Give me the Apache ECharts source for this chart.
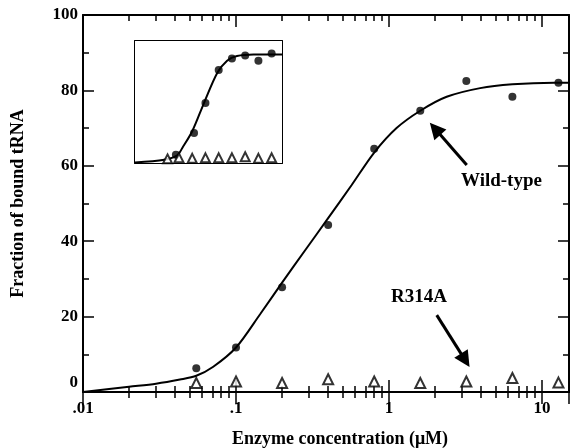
<!DOCTYPE html>
<html>
<head>
<meta charset="utf-8">
<script src="https://cdn.jsdelivr.net/npm/echarts@6/dist/echarts.min.js"></script>
<style>
  html, body { margin: 0; padding: 0; background: #fff; }
  #chart { width: 570px; height: 448px; }
</style>
</head>
<body>
<div id="chart"></div>
<script>
  // concentrations (uM) of the measured points
  var conc = [0.055, 0.1, 0.2, 0.4, 0.8, 1.6, 3.2, 6.4, 12.8]
  var wildType = [6.3, 11.8, 27.8, 44.3, 64.5, 74.6, 82.5, 78.3, 82]
  var r314a = [2.4, 2.8, 2.4, 3.4, 2.8, 2.4, 2.8, 3.7, 2.5]
  // fitted curve
  var fitX = [0.01, 0.02, 0.03, 0.043, 0.055, 0.071, 0.1, 0.144, 0.2, 0.283, 0.4, 0.57, 0.8, 1.12, 1.6, 2.38, 3.94, 6.4, 12, 15]
  var fitY = [0, 1.4, 2.2, 3.3, 4.3, 6.7, 11.8, 20.7, 29.0, 37.6, 46.1, 54.9, 63.5, 70.0, 74.6, 78.3, 80.6, 81.6, 82, 82]

  // inset
  var insetWildX = [0.085, 0.22, 0.4, 0.8, 1.6, 3.2, 6.4, 12.8]
  var insetWildY = [0.8, 2.9, 5.8, 9.0, 10.1, 10.4, 9.9, 10.6]
  var insetMutY = [0.4, 0.5, 0.45, 0.5, 0.5, 0.5, 0.6, 0.45, 0.5]
  var insetFitX = [0.01, 0.046, 0.092, 0.119, 0.2, 0.37, 0.74, 1.24, 2.08, 4.95, 22]
  var insetFitY = [0.06, 0.32, 0.74, 1.46, 3.07, 5.8, 8.7, 9.9, 10.35, 10.5, 10.5]

  // axis ticks / labels
  var xMajor = [0.01, 0.1, 1, 10]
  var xMajorLabels = ['.01', '.1', '1', '10']
  var xMinor = [0.02, 0.03, 0.04, 0.05, 0.06, 0.07, 0.08, 0.09,
    0.2, 0.3, 0.4, 0.5, 0.6, 0.7, 0.8, 0.9,
    2, 3, 4, 5, 6, 7, 8, 9, 20]

  var FONT = 'Liberation Serif'
  var chart = echarts.init(document.getElementById('chart'))

  function zip (xs, ys) {
    var out = []
    for (var i = 0; i < xs.length; i++) out.push([xs[i], ys[i]])
    return out
  }

  function logAxis (grid, pos, max, len, minorLen, withLabel) {
    var ax = {
      type: 'log',
      logBase: 10,
      gridIndex: grid,
      position: pos,
      min: 0.01,
      max: max,
      axisLine: { show: true, lineStyle: { color: '#000', width: 2 } },
      axisTick: { show: len > 0, inside: true, length: len, lineStyle: { color: '#000', width: 1.5 } },
      minorTick: { show: minorLen > 0, splitNumber: 9, length: minorLen, lineStyle: { color: '#000', width: 1.5 } },
      axisLabel: { show: false },
      splitLine: { show: false },
      minorSplitLine: { show: false }
    }
    if (withLabel) {
      ax.axisLabel = {
        show: true,
        margin: 8,
        color: '#000',
        fontFamily: FONT,
        fontWeight: 'bold',
        fontSize: 17,
        formatter: function (v) {
          var i = xMajor.indexOf(v)
          return i >= 0 ? xMajorLabels[i] : ''
        }
      }
      ax.name = 'Enzyme concentration (\u03bcM)'
      ax.nameLocation = 'middle'
      ax.nameGap = 38
      ax.nameTextStyle = { color: '#000', fontFamily: FONT, fontWeight: 'bold', fontSize: 18, padding: [0, 0, 0, 28] }
    }
    return ax
  }

  // mirrored top frame: ticks only, laid out in decades
  function topTicks (grid, max, ticks, len, withLine) {
    return {
      type: 'value',
      gridIndex: grid,
      position: 'top',
      min: -2,
      max: Math.log10(max),
      axisLine: { show: withLine, onZero: false, lineStyle: { color: '#000', width: 2 } },
      axisTick: { show: true, inside: true, length: len, customValues: ticks.map(Math.log10), lineStyle: { color: '#000', width: 1.5 } },
      axisLabel: { show: false },
      splitLine: { show: false }
    }
  }

  function yAxisDef (grid, pos, max, interval, len, minorLen, withLabel) {
    var ax = {
      type: 'value',
      gridIndex: grid,
      position: pos,
      min: 0,
      max: max,
      interval: interval,
      axisLine: { show: true, onZero: false, lineStyle: { color: '#000', width: 2 } },
      axisTick: { show: true, inside: true, length: len, lineStyle: { color: '#000', width: 1.5 } },
      minorTick: { show: true, splitNumber: 2, length: minorLen, lineStyle: { color: '#000', width: 1.5 } },
      axisLabel: { show: false },
      splitLine: { show: false },
      minorSplitLine: { show: false }
    }
    if (withLabel) {
      ax.axisLabel = {
        show: true,
        margin: 5,
        color: '#000',
        fontFamily: FONT,
        fontWeight: 'bold',
        fontSize: 17,
        formatter: function (v) { return v === 0 ? '{lo|0}' : String(v) },
        rich: { lo: { fontFamily: FONT, fontWeight: 'bold', fontSize: 17, color: '#000', padding: [0, 0, 18, 0] } }
      }
      ax.name = 'Fraction of bound tRNA'
      ax.nameLocation = 'middle'
      ax.nameGap = 56
      ax.nameTextStyle = { color: '#000', fontFamily: FONT, fontWeight: 'bold', fontSize: 18 }
    }
    return ax
  }

  var option = {
    animation: false,
    backgroundColor: '#fff',
    grid: [
      { left: 83, top: 15, width: 486, height: 377, outerBoundsMode: 'none', containLabel: false },
      { left: 135, top: 41, width: 147, height: 122, outerBoundsMode: 'none', show: true, backgroundColor: '#fff', borderWidth: 0, z: 5 }
    ],
    xAxis: [
      logAxis(0, 'bottom', 15, 12, 6, true),
      logAxis(0, 'top', 15, 12, 6, false),
      topTicks(0, 15, xMajor, 12, true),
      topTicks(0, 15, xMinor, 6, false),
      logAxis(1, 'bottom', 22, 0, 0, false),
      topTicks(1, 22, xMajor, 5, true),
      topTicks(1, 22, xMinor, 3, false)
    ],
    yAxis: [
      yAxisDef(0, 'left', 100, 20, 11, 6, true),
      yAxisDef(0, 'right', 100, 20, 11, 6, false),
      yAxisDef(1, 'left', 11.8, 2, 5, 3, false),
      yAxisDef(1, 'right', 11.8, 2, 5, 3, false)
    ],
    graphic: [
      { type: 'text', left: 461, top: 172, z: 100, style: { text: 'Wild-type', fill: '#000', font: 'bold 19px "Liberation Serif"' } },
      { type: 'text', left: 391, top: 288, z: 100, style: { text: 'R314A', fill: '#000', font: 'bold 19px "Liberation Serif"' } }
    ],
    series: [
      {
        name: 'fit',
        type: 'line',
        xAxisIndex: 0,
        yAxisIndex: 0,
        data: zip(fitX, fitY),
        smooth: 0.3,
        showSymbol: false,
        lineStyle: { color: '#000', width: 2 },
        silent: true
      },
      {
        name: 'Wild-type',
        type: 'scatter',
        xAxisIndex: 0,
        yAxisIndex: 0,
        data: zip(conc, wildType),
        symbol: 'circle',
        symbolSize: 8,
        itemStyle: { color: '#000' },
        markLine: {
          silent: true,
          symbol: ['none', 'triangle'],
          symbolSize: 16,
          label: { show: false },
          lineStyle: { color: '#000', width: 3, type: 'solid' },
          data: [
            [{ coord: [3.22, 60.2] }, { coord: [2.0, 69.8] }],
            [{ coord: [2.05, 20.4] }, { coord: [3.15, 8.4] }]
          ]
        }
      },
      {
        name: 'R314A',
        type: 'scatter',
        xAxisIndex: 0,
        yAxisIndex: 0,
        data: zip(conc, r314a),
        symbol: 'triangle',
        symbolSize: [10, 10],
        itemStyle: { color: '#fff', borderColor: '#000', borderWidth: 2 }
      },
      {
        name: 'inset fit',
        type: 'line',
        xAxisIndex: 4,
        yAxisIndex: 2,
        data: zip(insetFitX, insetFitY),
        smooth: 0.3,
        showSymbol: false,
        lineStyle: { color: '#000', width: 2 },
        z: 10,
        silent: true
      },
      {
        name: 'inset wild',
        type: 'scatter',
        xAxisIndex: 4,
        yAxisIndex: 2,
        data: zip(insetWildX, insetWildY),
        symbolSize: 8,
        itemStyle: { color: '#000' },
        z: 10
      },
      {
        name: 'inset mutant',
        type: 'scatter',
        xAxisIndex: 4,
        yAxisIndex: 2,
        data: zip(conc, insetMutY),
        symbol: 'triangle',
        symbolSize: [9, 9],
        itemStyle: { color: '#fff', borderColor: '#000', borderWidth: 2 },
        z: 10
      }
    ]
  }
  chart.setOption(option)
</script>
</body>
</html>
